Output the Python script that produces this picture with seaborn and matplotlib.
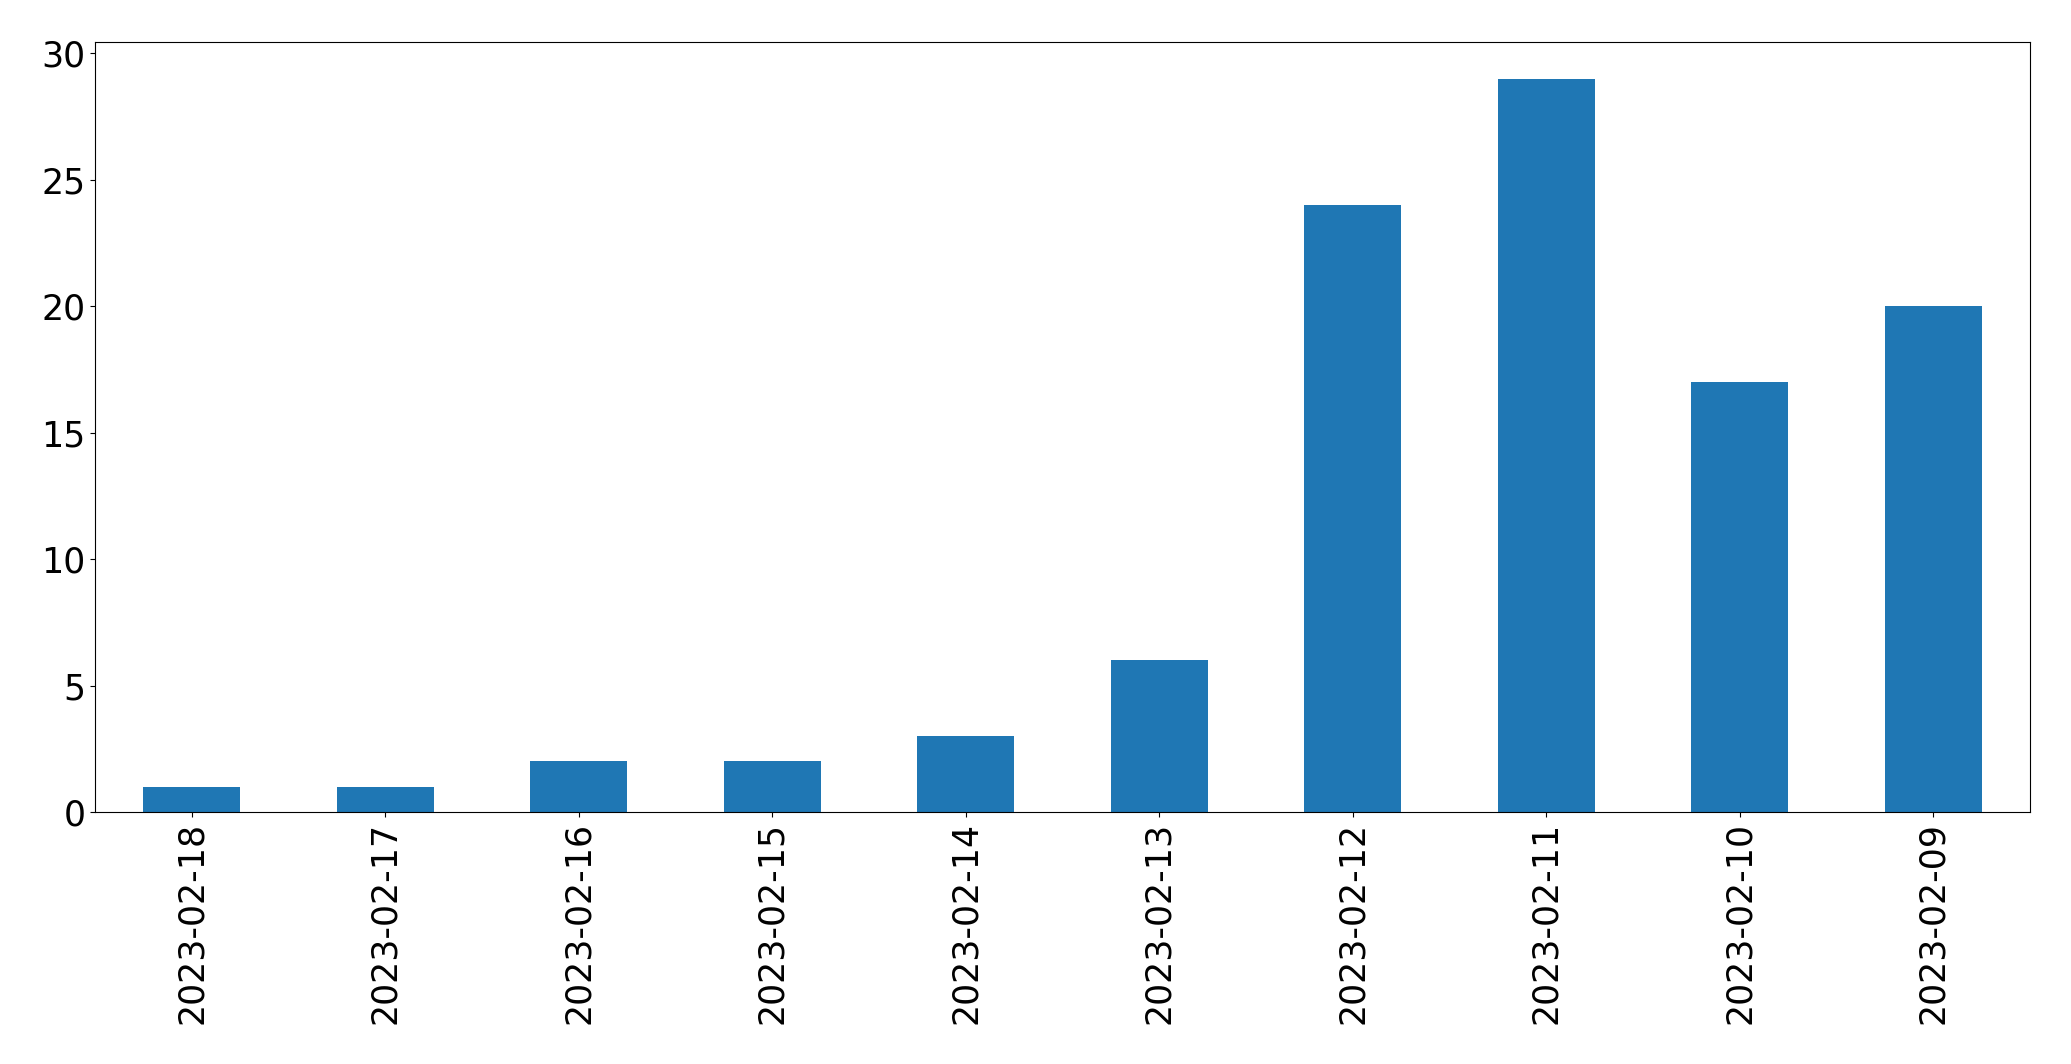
import numpy as np
import pandas as pd
import seaborn as sns
import matplotlib.pyplot as plt

dates = ["2023-02-18", "2023-02-17", "2023-02-16", "2023-02-15", "2023-02-14",
         "2023-02-13", "2023-02-12", "2023-02-11", "2023-02-10", "2023-02-09"]
counts = [1, 1, 2, 2, 3, 6, 24, 29, 17, 20]

df = pd.DataFrame({"date": dates, "count": counts})

fig = plt.figure(figsize=(20.71, 10.64), dpi=100)
ax = fig.add_axes([95 / 2071, 1 - 812 / 1064, (2030 - 95) / 2071, (812 - 42) / 1064])
sns.barplot(x="date", y="count", data=df, color="#1f77b4", saturation=1, width=0.5, ax=ax)
ax.set_xlim(-0.5, len(dates) - 0.5)
ax.set(xlabel="", ylabel="")
ax.tick_params(axis="both", labelsize=25)
ax.tick_params(axis="x", labelrotation=90)
plt.savefig("out.png", dpi=100)
